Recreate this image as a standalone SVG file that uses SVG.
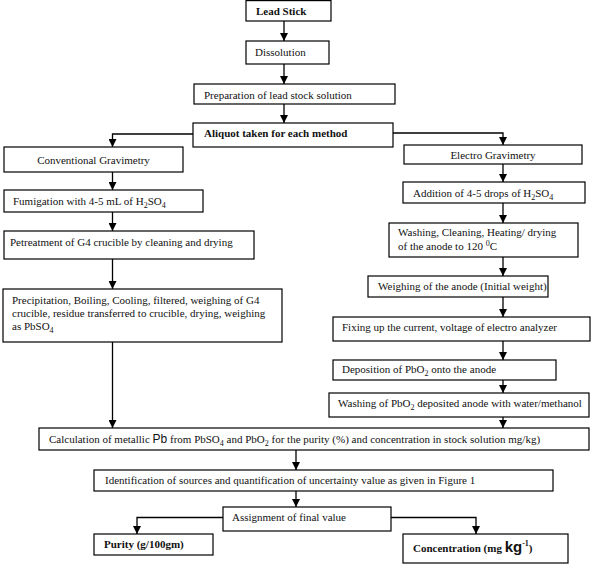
<svg xmlns="http://www.w3.org/2000/svg" width="600" height="564" viewBox="0 0 600 564">
<defs>
<marker id="ah" markerUnits="userSpaceOnUse" markerWidth="8" markerHeight="8" refX="8" refY="4" orient="auto">
<path d="M0,0 L8,4 L0,8 z" fill="#000"/>
</marker>
<style>
rect{fill:#fff;stroke:#000;stroke-width:1.2}
text{font-family:"Liberation Serif","Times New Roman",serif;font-size:11px;fill:#111}
.b{font-weight:bold}
.c{fill:none;stroke:#000;stroke-width:1.3;marker-end:url(#ah)}
</style>
</defs>
<rect x="0" y="0" width="600" height="564" style="fill:#fff;stroke:none"/>
<g id="connectors">
<path class="c" d="M284,21 V41"/>
<path class="c" d="M284,64 V84"/>
<path class="c" d="M284,104 V123"/>
<path class="c" d="M193,134 H112.5 V147"/>
<path class="c" d="M393,133 H503 V145"/>
<path class="c" d="M112.5,172 V190"/>
<path class="c" d="M112.5,212 V231"/>
<path class="c" d="M112.5,259 V289"/>
<path class="c" d="M112.5,342 V428"/>
<path class="c" d="M503,164 V182"/>
<path class="c" d="M503,203 V223"/>
<path class="c" d="M503,257 V276"/>
<path class="c" d="M503,297 V317"/>
<path class="c" d="M503,341 V360"/>
<path class="c" d="M503,380 V393"/>
<path class="c" d="M503,417 V428"/>
<path class="c" d="M296,450 V470"/>
<path class="c" d="M296,491 V507"/>
<path class="c" d="M223,517.5 H137 V534"/>
<path class="c" d="M391,517.5 H476 V534"/>
</g>
<g id="lead-stick"><rect x="246" y="0.6" width="85" height="20.4"/><text x="256" y="15" class="b">Lead Stick</text></g>
<g id="dissolution"><rect x="246" y="41" width="83" height="23"/><text x="255" y="56">Dissolution</text></g>
<g id="preparation"><rect x="194" y="84" width="201" height="20"/><text x="204" y="99">Preparation of lead stock solution</text></g>
<g id="aliquot"><rect x="193" y="123" width="200" height="24"/><text x="204" y="137" class="b">Aliquot taken for each method</text></g>
<g id="conventional"><rect x="4" y="147" width="179" height="25"/><text x="93.5" y="164" text-anchor="middle">Conventional Gravimetry</text></g>
<g id="fumigation"><rect x="4" y="190" width="199" height="22"/><text x="13" y="205">Fumigation with 4-5 mL of H<tspan dy="2.5" font-size="8">2</tspan><tspan dy="-2.5">SO</tspan><tspan dy="2.5" font-size="8">4</tspan></text></g>
<g id="pretreatment"><rect x="4" y="231" width="250" height="28"/><text x="10" y="246">Petreatment of G4 crucible by cleaning and drying</text></g>
<g id="precipitation"><rect x="3" y="289" width="279" height="53"/><text x="12" y="304">Precipitation, Boiling, Cooling, filtered, weighing of G4</text><text x="12" y="317">crucible, residue transferred to crucible, drying, weighing</text><text x="12" y="330">as PbSO<tspan dy="2.5" font-size="8">4</tspan></text></g>
<g id="electro"><rect x="404" y="145" width="178" height="19"/><text x="493" y="159" text-anchor="middle">Electro Gravimetry</text></g>
<g id="addition"><rect x="403" y="182" width="182" height="21"/><text x="413" y="197">Addition of 4-5 drops of H<tspan dy="2.5" font-size="8">2</tspan><tspan dy="-2.5">SO</tspan><tspan dy="2.5" font-size="8">4</tspan></text></g>
<g id="washing-cleaning"><rect x="389" y="223" width="189" height="34"/><text x="398" y="236">Washing, Cleaning, Heating/ drying</text><text x="398" y="250">of the anode to 120 <tspan dy="-4" font-size="8">0</tspan><tspan dy="4">C</tspan></text></g>
<g id="weighing"><rect x="368" y="276" width="180" height="21"/><text x="378" y="290">Weighing of the anode (Initial weight)</text></g>
<g id="fixing"><rect x="333" y="317" width="257" height="24"/><text x="342" y="331">Fixing up the current, voltage of electro analyzer</text></g>
<g id="deposition"><rect x="333" y="360" width="223" height="20"/><text x="342" y="373">Deposition of PbO<tspan dy="2.5" font-size="8">2</tspan><tspan dy="-2.5"> onto the anode</tspan></text></g>
<g id="washing-pbo2"><rect x="329" y="393" width="260" height="24"/><text x="338" y="407">Washing of PbO<tspan dy="2.5" font-size="8">2</tspan><tspan dy="-2.5"> deposited anode with water/methanol</tspan></text></g>
<g id="calculation"><rect x="39" y="428" width="550" height="22"/><text x="49" y="443">Calculation of metallic <tspan style="font-family:'Liberation Sans',Arial,sans-serif;font-size:12px">Pb</tspan> from PbSO<tspan dy="2.5" font-size="8">4</tspan><tspan dy="-2.5"> and PbO</tspan><tspan dy="2.5" font-size="8">2</tspan><tspan dy="-2.5"> for the purity (%) and concentration in stock solution mg/kg)</tspan></text></g>
<g id="identification"><rect x="94" y="470" width="459" height="21"/><text x="105" y="484">Identification of sources and quantification of uncertainty value as given in Figure 1</text></g>
<g id="assignment"><rect x="223" y="507" width="168" height="24"/><text x="232" y="521">Assignment of final value</text></g>
<g id="purity"><rect x="94" y="534" width="119" height="21"/><text x="104" y="548" class="b">Purity (g/100gm)</text></g>
<g id="concentration"><rect x="403" y="534" width="165" height="29"/><text x="413" y="552" class="b">Concentration (mg <tspan style="font-family:'Liberation Sans',Arial,sans-serif;font-size:15px">kg</tspan><tspan dy="-6" font-size="8">-1</tspan><tspan dy="6">)</tspan></text></g>
</svg>
